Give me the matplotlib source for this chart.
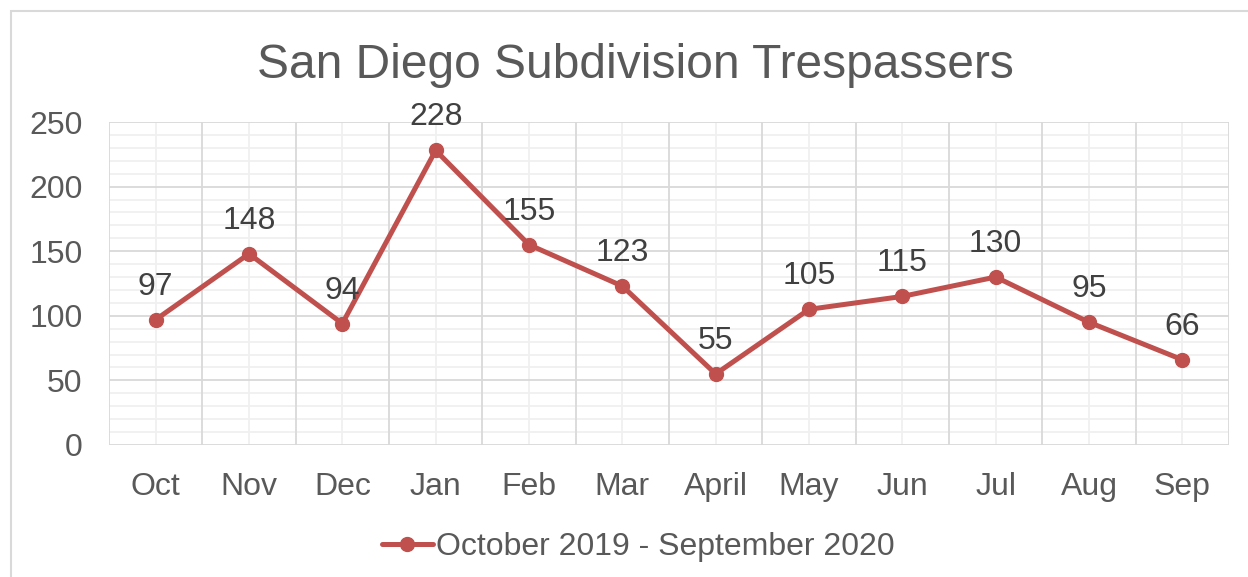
import matplotlib.pyplot as plt
import matplotlib.patches as patches
import numpy as np

months = ["Oct", "Nov", "Dec", "Jan", "Feb", "Mar", "April", "May", "Jun", "Jul", "Aug", "Sep"]
trespassers = [97, 148, 94, 228, 155, 123, 55, 105, 115, 130, 95, 66]
series_name = "October 2019 - September 2020"

plt.rcParams['font.family'] = ['Liberation Sans', 'DejaVu Sans']
text_color = '#595959'
line_color = '#C0504D'
W, H = 1248, 577

fig = plt.figure(figsize=(W / 100, H / 100), dpi=100)
ax = fig.add_axes([109 / W, 1 - 445 / H, (1229 - 109) / W, (445 - 122) / H])

x = np.arange(len(months))
line, = ax.plot(x, trespassers, color=line_color, lw=3.6, marker='o', ms=10,
                solid_capstyle='round', zorder=3, clip_on=False)

for xi, v in zip(x, trespassers):
    ax.annotate(str(v), (xi, v), xytext=(0, 25), textcoords='offset pixels',
                ha='center', va='baseline', fontsize=23, color='#404040')

ax.set_xlim(-0.5, len(months) - 0.5)
ax.set_ylim(0, 250)

# gridlines: heavier majors, faint minors
ax.set_yticks(np.arange(0, 251, 50))
ax.set_xticks(x)
ax.set_xticklabels(months)
ax.grid(False)
for yv in np.arange(0, 251, 10):
    major = yv % 50 == 0
    ax.axhline(yv, color='#D9D9D9' if major else '#F0F0F0', lw=1.3, zorder=1 if major else 0)
for xv in np.arange(-0.5, len(months), 1.0):
    ax.axvline(xv, color='#D9D9D9', lw=1.3, zorder=1)
for xv in x:
    ax.axvline(xv, color='#F0F0F0', lw=1.3, zorder=0)

for s in ax.spines.values():
    s.set_visible(False)
ax.tick_params(which='both', length=0)
ax.tick_params(axis='y', labelsize=23, labelcolor=text_color, pad=19)
ax.tick_params(axis='x', labelsize=23, labelcolor=text_color, pad=19.5)

fig.text(635 / W, 1 - 65 / H, "San Diego Subdivision Trespassers", ha='center', va='center',
         fontsize=34.5, color=text_color)

fig.legend([line], [series_name], loc='center', bbox_to_anchor=(638 / W, 1 - 547 / H),
           frameon=False, fontsize=23, labelcolor=text_color, handlelength=1.6,
           handletextpad=0.1, borderaxespad=0)

# chart frame, cut by the image edges on the right and bottom
fig.patches.append(patches.Rectangle((11 / W, -0.1), 2, 1.1 - 11 / H, transform=fig.transFigure,
                                     fill=False, edgecolor='#D9D9D9', lw=1.5))

fig.savefig('out.png', dpi=100, facecolor='white')
